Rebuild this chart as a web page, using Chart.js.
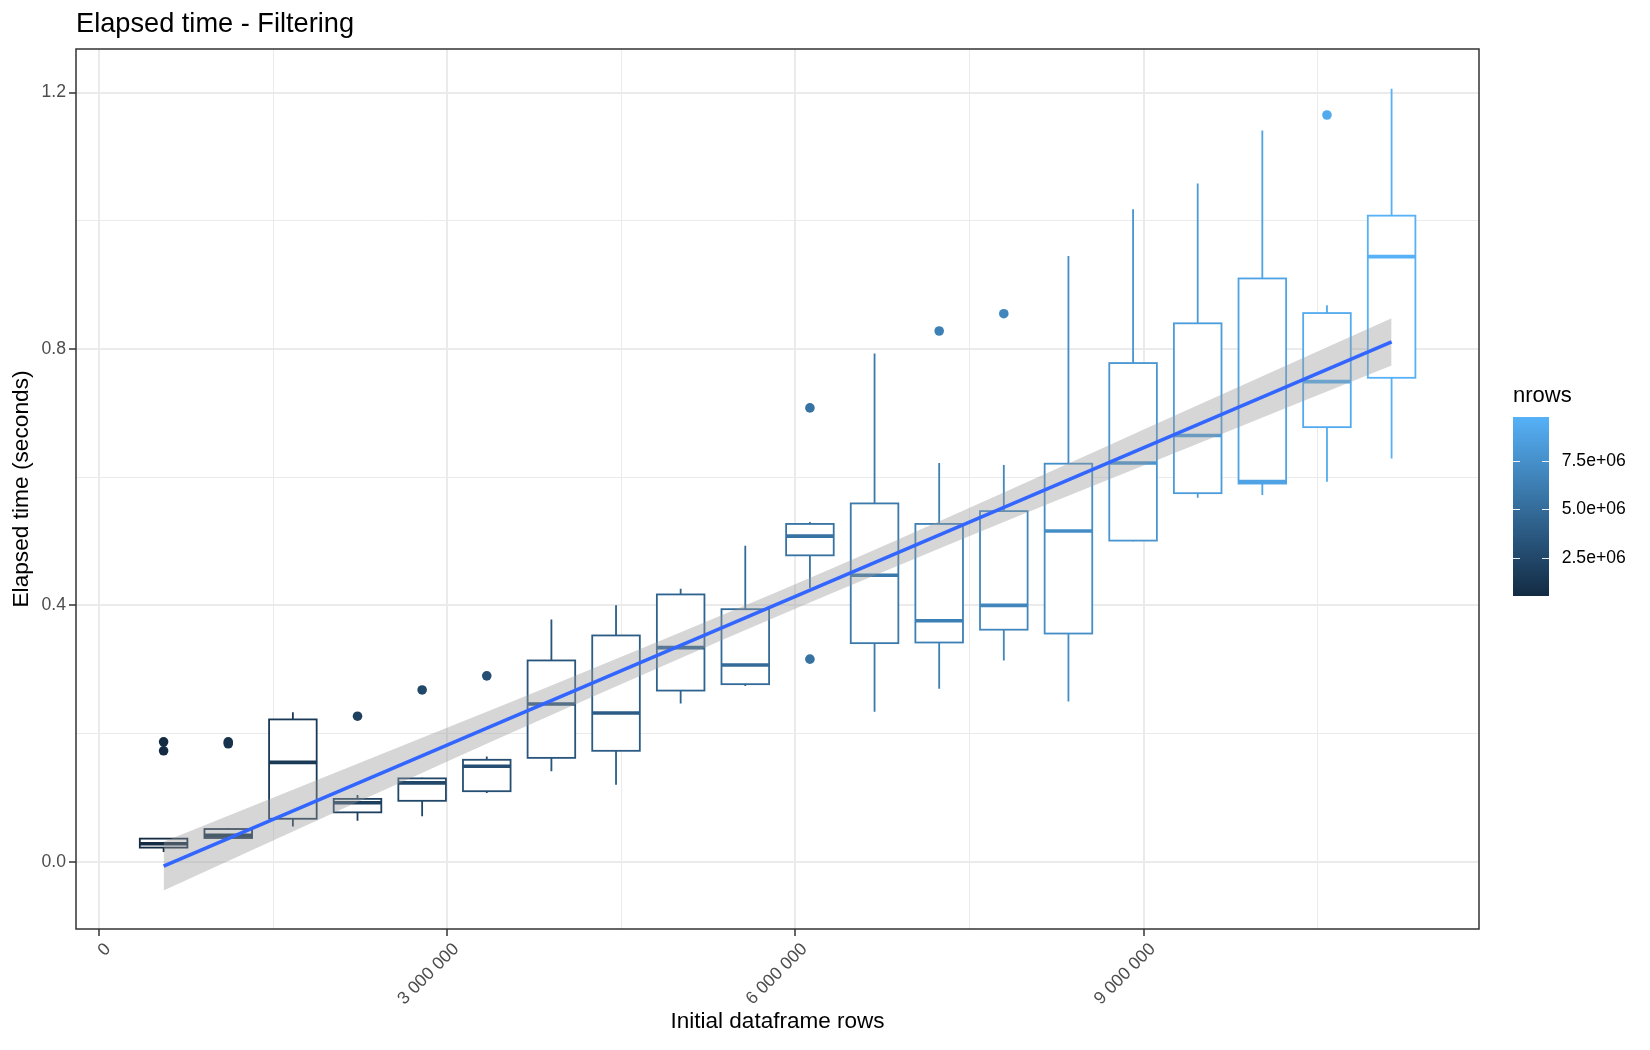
<!DOCTYPE html>
<html>
<head>
<meta charset="utf-8">
<title>Elapsed time - Filtering</title>
<script src="https://cdn.jsdelivr.net/npm/chart.js@4.4.1/dist/chart.umd.min.js"></script>
<style>
  html, body { margin: 0; padding: 0; background: #fff; }
  #wrap { width: 1650px; height: 1050px; }
</style>
</head>
<body>
<div id="wrap"><canvas id="chart" width="1650" height="1050"></canvas></div>
<script>
// one box per initial dataframe size
const nrows = [556800, 1113600, 1670400, 2227200, 2784000, 3340800, 3897600, 4454400, 5011200, 5568000,
               6124800, 6681600, 7238400, 7795200, 8352000, 8908800, 9465600, 10022400, 10579200, 11136000];

// box stats (seconds): lower whisker, Q1, median, Q3, upper whisker
const whiskerLow  = [0.015, 0.036, 0.055, 0.064, 0.071, 0.107, 0.141, 0.120, 0.247, 0.274,
                     0.427, 0.234, 0.270, 0.314, 0.250, 0.500, 0.568, 0.572, 0.593, 0.629];
const q1          = [0.022, 0.037, 0.067, 0.077, 0.095, 0.110, 0.162, 0.173, 0.267, 0.277,
                     0.478, 0.341, 0.342, 0.362, 0.356, 0.501, 0.575, 0.590, 0.678, 0.755];
const median      = [0.028, 0.041, 0.155, 0.092, 0.123, 0.149, 0.246, 0.232, 0.334, 0.307,
                     0.508, 0.447, 0.376, 0.400, 0.516, 0.622, 0.665, 0.593, 0.749, 0.944];
const q3          = [0.036, 0.051, 0.222, 0.098, 0.130, 0.159, 0.314, 0.353, 0.417, 0.394,
                     0.527, 0.559, 0.527, 0.547, 0.621, 0.778, 0.840, 0.910, 0.856, 1.008];
const whiskerHigh = [0.037, 0.052, 0.233, 0.104, 0.131, 0.164, 0.378, 0.400, 0.426, 0.493,
                     0.530, 0.793, 0.622, 0.619, 0.945, 1.018, 1.058, 1.141, 0.868, 1.206];

// outliers: box number (1-based) and value
const outlierBox = [1, 1, 2, 2, 4, 5, 6, 11, 11, 13, 14, 19];
const outlierVal = [0.187, 0.173, 0.187, 0.184, 0.227, 0.268, 0.290, 0.708, 0.316, 0.828, 0.855, 1.165];

// linear fit and its confidence band
const fitX = [556800, 11136000];
const fitY = [-0.007, 0.811];
const bandX    = [556800, 2227200, 3897600, 5846400, 7795200, 9465600, 11136000];
const bandLow  = [-0.045, 0.093, 0.229, 0.383, 0.530, 0.652, 0.774];
const bandHigh = [0.031, 0.153, 0.275, 0.421, 0.576, 0.712, 0.848];

// axes
const xTicks = [0, 1500000, 3000000, 4500000, 6000000, 7500000, 9000000, 10500000];
const xTickLabels = ['0', '', '3 000 000', '', '6 000 000', '', '9 000 000', ''];
const yTicks = [0, 0.2, 0.4, 0.6, 0.8, 1.0, 1.2];
const yTickLabels = ['0.0', '', '0.4', '', '0.8', '', '1.2'];

// colour bar legend
const colourMin = 520000;
const colourMax = 9790000;
const legendTicks = [2500000, 5000000, 7500000];
const legendLabels = ['2.5e+06', '5.0e+06', '7.5e+06'];

const boxWidth = 410000; // in rows
const lowColour = [0x13, 0x2B, 0x43];
const highColour = [0x56, 0xB1, 0xF7];

function rampColour(t) {
    return 'rgb(' + lowColour.map((c, j) => Math.round(c + (highColour[j] - c) * t)).join(',') + ')';
}
function boxColour(i) {
    return rampColour(i / (nrows.length - 1));
}

Chart.defaults.font.family = "'Liberation Sans', Arial, Helvetica, sans-serif";

const boxPlugin = {
    id: 'boxes',
    beforeDatasetsDraw(chart) {
        const { ctx, scales: { x, y } } = chart;
        ctx.save();
        nrows.forEach((n, i) => {
            const cx = x.getPixelForValue(n);
            const left = x.getPixelForValue(n - boxWidth / 2);
            const right = x.getPixelForValue(n + boxWidth / 2);
            const col = boxColour(i);
            ctx.strokeStyle = col;
            ctx.lineWidth = 1.8;
            // whiskers
            ctx.beginPath();
            ctx.moveTo(cx, y.getPixelForValue(q3[i]));
            ctx.lineTo(cx, y.getPixelForValue(whiskerHigh[i]));
            ctx.moveTo(cx, y.getPixelForValue(q1[i]));
            ctx.lineTo(cx, y.getPixelForValue(whiskerLow[i]));
            ctx.stroke();
            // box
            const top = y.getPixelForValue(q3[i]);
            const bottom = y.getPixelForValue(q1[i]);
            ctx.fillStyle = '#ffffff';
            ctx.fillRect(left, top, right - left, bottom - top);
            ctx.strokeRect(left, top, right - left, bottom - top);
            // median
            ctx.lineWidth = 3.6;
            ctx.beginPath();
            const my = y.getPixelForValue(median[i]);
            ctx.moveTo(left, my);
            ctx.lineTo(right, my);
            ctx.stroke();
        });
        ctx.restore();
    }
};

const framePlugin = {
    id: 'frame',
    afterDraw(chart) {
        const { ctx, chartArea } = chart;
        ctx.save();
        // panel border
        ctx.strokeStyle = '#333333';
        ctx.lineWidth = 1.5;
        ctx.strokeRect(chartArea.left, chartArea.top, chartArea.right - chartArea.left, chartArea.bottom - chartArea.top);

        // plot title
        ctx.fillStyle = '#000000';
        ctx.font = "27.2px 'Liberation Sans', Arial, sans-serif";
        ctx.textAlign = 'left';
        ctx.textBaseline = 'alphabetic';
        ctx.fillText('Elapsed time - Filtering', 76, 31.5);

        // colour bar
        const barLeft = 1513, barTop = 417, barW = 36, barH = 179;
        ctx.font = "22px 'Liberation Sans', Arial, sans-serif";
        ctx.fillText('nrows', barLeft, 401.5);
        const grad = ctx.createLinearGradient(0, barTop + barH, 0, barTop);
        grad.addColorStop(0, rampColour(0));
        grad.addColorStop(0.5, rampColour(0.5));
        grad.addColorStop(1, rampColour(1));
        ctx.fillStyle = grad;
        ctx.fillRect(barLeft, barTop, barW, barH);
        ctx.font = "17.6px 'Liberation Sans', Arial, sans-serif";
        ctx.textBaseline = 'middle';
        legendTicks.forEach((v, i) => {
            const py = Math.round(barTop + barH - (v - colourMin) / (colourMax - colourMin) * barH) + 0.5;
            ctx.strokeStyle = 'rgba(255,255,255,0.9)';
            ctx.lineWidth = 1;
            ctx.beginPath();
            ctx.moveTo(barLeft, py);
            ctx.lineTo(barLeft + 7, py);
            ctx.moveTo(barLeft + barW - 7, py);
            ctx.lineTo(barLeft + barW, py);
            ctx.stroke();
            ctx.fillStyle = '#000000';
            ctx.fillText(legendLabels[i], barLeft + barW + 12.7, py);
        });
        ctx.restore();
    }
};

const isMajor = (ctx) => ctx.index % 2 === 0;

new Chart(document.getElementById('chart'), {
    type: 'scatter',
    data: {
        datasets: [
            {
                type: 'line',
                label: 'fit',
                data: fitX.map((x, i) => ({ x, y: fitY[i] })),
                borderColor: '#3366FF',
                borderWidth: 3.6,
                pointRadius: 0,
                fill: false
            },
            {
                type: 'line',
                label: 'band upper',
                data: bandX.map((x, i) => ({ x, y: bandHigh[i] })),
                borderWidth: 0,
                borderColor: 'rgba(0,0,0,0)',
                pointRadius: 0,
                cubicInterpolationMode: 'monotone',
                backgroundColor: 'rgba(153,153,153,0.4)',
                fill: '+1'
            },
            {
                type: 'line',
                label: 'band lower',
                data: bandX.map((x, i) => ({ x, y: bandLow[i] })),
                borderWidth: 0,
                borderColor: 'rgba(0,0,0,0)',
                pointRadius: 0,
                cubicInterpolationMode: 'monotone',
                fill: false
            },
            {
                type: 'scatter',
                label: 'outliers',
                data: outlierBox.map((b, i) => ({ x: nrows[b - 1], y: outlierVal[i] })),
                pointBackgroundColor: outlierBox.map(b => boxColour(b - 1)),
                pointBorderWidth: 0,
                pointRadius: 4.8
            }
        ]
    },
    options: {
        responsive: false,
        devicePixelRatio: 1,
        animation: false,
        layout: { padding: { top: 49, right: 171, bottom: 15, left: 8 } },
        plugins: {
            legend: { display: false },
            tooltip: { enabled: false },
            title: { display: false }
        },
        scales: {
            x: {
                type: 'linear',
                min: -198000,
                max: 11889000,
                afterBuildTicks: (scale) => { scale.ticks = xTicks.map(v => ({ value: v })); },
                afterFit: (scale) => { scale.height = 106; },
                ticks: {
                    autoSkip: false,
                    minRotation: 45,
                    maxRotation: 45,
                    padding: 3,
                    labelOffset: 9,
                    color: '#4D4D4D',
                    font: { size: 17.6 },
                    callback: (v, i) => xTickLabels[i]
                },
                grid: {
                    color: '#EBEBEB',
                    lineWidth: (ctx) => isMajor(ctx) ? 2 : 1,
                    tickColor: (ctx) => isMajor(ctx) ? '#333333' : 'rgba(0,0,0,0)',
                    tickWidth: 1.5,
                    tickLength: 7
                },
                border: { display: false },
                title: {
                    display: true,
                    text: 'Initial dataframe rows',
                    color: '#000000',
                    font: { size: 22.5 },
                    padding: 0
                }
            },
            y: {
                type: 'linear',
                min: -0.105,
                max: 1.268,
                afterBuildTicks: (scale) => { scale.ticks = yTicks.map(v => ({ value: v })); },
                afterFit: (scale) => { scale.width = 68; },
                ticks: {
                    padding: 3,
                    color: '#4D4D4D',
                    font: { size: 17.6 },
                    callback: (v, i) => yTickLabels[i]
                },
                grid: {
                    color: '#EBEBEB',
                    lineWidth: (ctx) => isMajor(ctx) ? 2 : 1,
                    tickColor: (ctx) => isMajor(ctx) ? '#333333' : 'rgba(0,0,0,0)',
                    tickWidth: 1.5,
                    tickLength: 7
                },
                border: { display: false },
                title: {
                    display: true,
                    text: 'Elapsed time (seconds)',
                    color: '#000000',
                    font: { size: 22.7 },
                    padding: 0
                }
            }
        }
    },
    plugins: [boxPlugin, framePlugin]
});
</script>
</body>
</html>
